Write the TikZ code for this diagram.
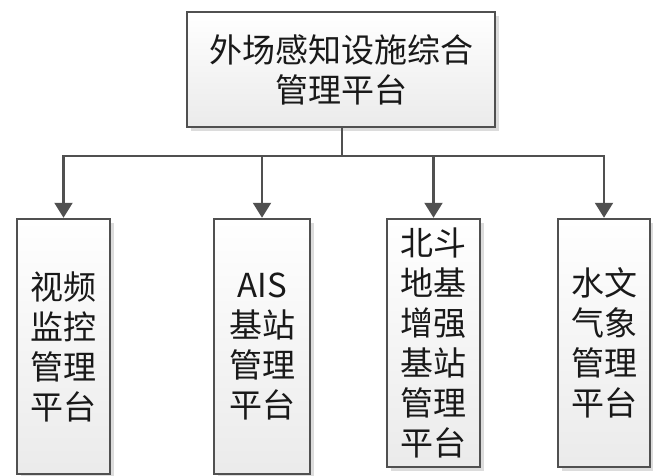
\documentclass[tikz,border=0pt]{standalone}
\usepackage{fontspec}
\setmainfont{Noto Sans CJK SC}
\usetikzlibrary{arrows.meta,shadows}
\definecolor{linec}{HTML}{505050}
\definecolor{boxb}{HTML}{505050}
\definecolor{shadowc}{HTML}{DCDCDC}
\begin{document}
\begin{tikzpicture}[x=1pt,y=-1pt,
  box/.style={draw=boxb, line width=1.3pt, top color=white, bottom color=black!8,
    drop shadow={shadow xshift=4pt, shadow yshift=-4pt, fill=shadowc, opacity=1},
    align=center, inner sep=0pt, text=black!90,
    font=\fontsize{33}{40}\selectfont},
  conn/.style={draw=linec, line width=2.2pt},
  arr/.style={conn, -{Triangle[length=15pt,width=18pt]}, shorten >=0.6pt}]
\useasboundingbox (0,0) rectangle (653,475);
\node[box, minimum width=308pt, minimum height=115pt] (top) at (341,69.5) {外场感知设施综合\\管理平台};
\node[box, minimum width=93pt, minimum height=255pt] (b1) at (63.5,346.5) {视频\\监控\\管理\\平台};
\node[box, minimum width=96pt, minimum height=255pt] (b2) at (262,346.5) {AIS\\基站\\管理\\平台};
\node[box, minimum width=93pt, minimum height=248pt] (b3) at (433.5,343) {北斗\\地基\\增强\\基站\\管理\\平台};
\node[box, minimum width=92pt, minimum height=248pt] (b4) at (604,343) {水文\\气象\\管理\\平台};
\coordinate (j) at (342,156);
\draw[conn, line width=2.6pt] (top.south -| j) -- (j);
\draw[arr] (j) -| (b1.north);
\draw[arr] (j) -| (b2.north);
\draw[arr] (j) -| (b3.north);
\draw[arr] (j) -| (b4.north);
\end{tikzpicture}
\end{document}
